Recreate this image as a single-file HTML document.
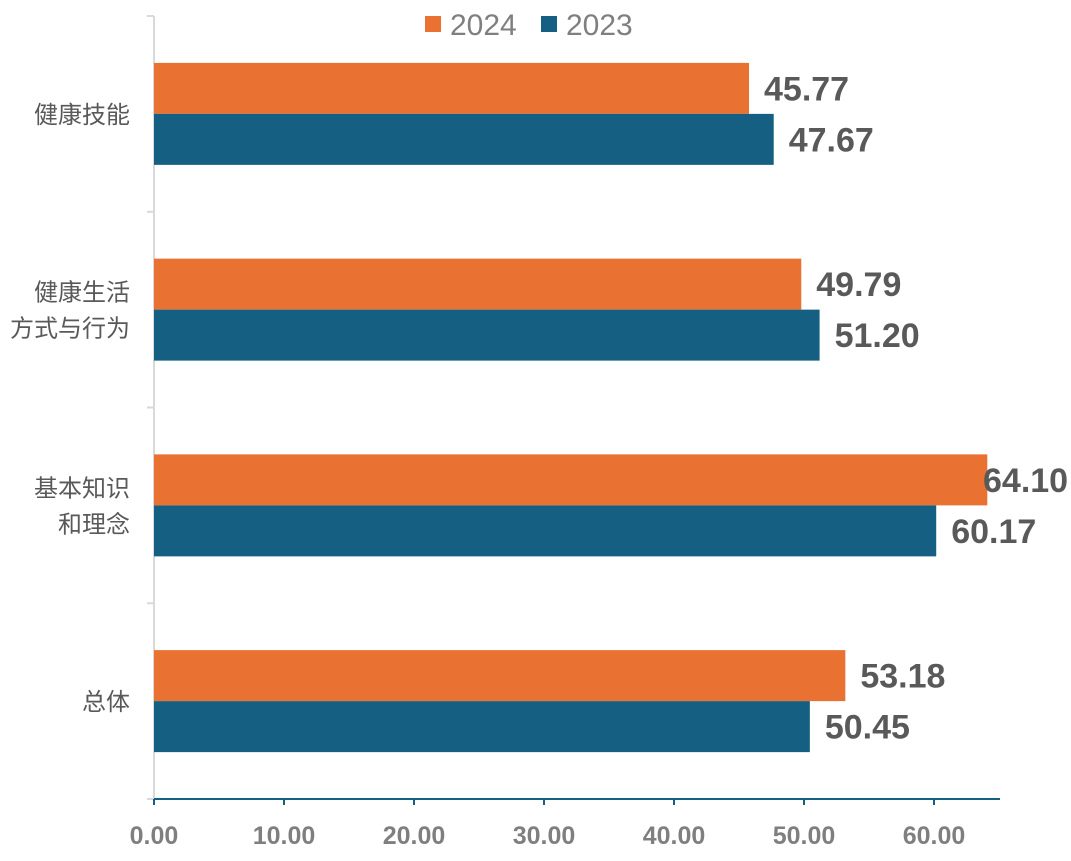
<!DOCTYPE html>
<html><head><meta charset="utf-8"><style>
body{margin:0;background:#fff;}
svg{display:block;font-family:"Liberation Sans","Noto Sans CJK SC",sans-serif;}
</style></head><body>
<svg id="chart" width="1071" height="861"></svg>
<script>
const categories=["健康技能","健康生活方式与行为","基本知识和理念","总体"];
const catLines=[["健康技能"],["健康生活","方式与行为"],["基本知识","和理念"],["总体"]];
const series2024=[45.77,49.79,64.10,53.18];
const series2023=[47.67,51.20,60.17,50.45];
const tickValues=[0,10,20,30,40,50,60];
const ns="http://www.w3.org/2000/svg";
const svg=document.getElementById('chart');
const x0=154,pxPerUnit=13,plotTop=16,plotBottom=799,band=(plotBottom-plotTop)/categories.length,barH=51;
const xs=v=>x0+v*pxPerUnit;
function mk(t,a){const e=document.createElementNS(ns,t);for(const k in a)e.setAttribute(k,a[k]);svg.appendChild(e);return e;}
let ax=mk('line',{x1:x0,y1:plotTop,x2:x0,y2:plotBottom,stroke:'#d9d9d9','stroke-width':2});


for(let i=0;i<=categories.length;i++){const y=plotTop+i*band;
 let t=mk('line',{x1:x0-7,y1:y,x2:x0,y2:y,stroke:'#d9d9d9','stroke-width':2});
 
 }
let bx=mk('line',{x1:x0,y1:plotBottom,x2:1000,y2:plotBottom,stroke:'#156082','stroke-width':2});


tickValues.forEach(v=>{const x=xs(v);
 let t=mk('line',{x1:x,y1:plotBottom,x2:x,y2:plotBottom+6,stroke:'#156082','stroke-width':2});
 
 
 let l=mk('text',{x:x,y:844,'text-anchor':'middle','font-size':25,'font-weight':'bold',fill:'#7f7f7f'});
 l.textContent=v.toFixed(2);
 
 });
categories.forEach((c,i)=>{const cy=plotTop+i*band+band/2;
 [[series2024[i],'#E97132',cy-barH,'bar-2024'],[series2023[i],'#156082',cy,'bar-2023']].forEach(([v,col,y,n])=>{
  let r=mk('rect',{x:x0,y:y,width:xs(v)-x0,height:barH,fill:col});
  
  
  let lx=Math.min(xs(v)+15,983);
  let t=mk('text',{x:lx,y:y+barH/2+12,'font-size':34,'font-weight':'bold',fill:'#595959'});
  t.textContent=v.toFixed(2);
  
  });
 const lines=catLines[i];
 lines.forEach((s,j)=>{let t=mk('text',{x:130,y:cy+9+(j-(lines.length-1)/2)*36,'text-anchor':'end','font-size':24,fill:'#595959'});
  t.textContent=s;
  
  });
});
[['#E97132','2024',425],['#156082','2023',541]].forEach(([c,s,x])=>{
 let r=mk('rect',{x:x,y:16,width:16,height:16,fill:c});
 
 
 let t=mk('text',{x:x+25,y:35,'font-size':30,fill:'#7f7f7f'});t.textContent=s;
 
 });
</script>
</body></html>
